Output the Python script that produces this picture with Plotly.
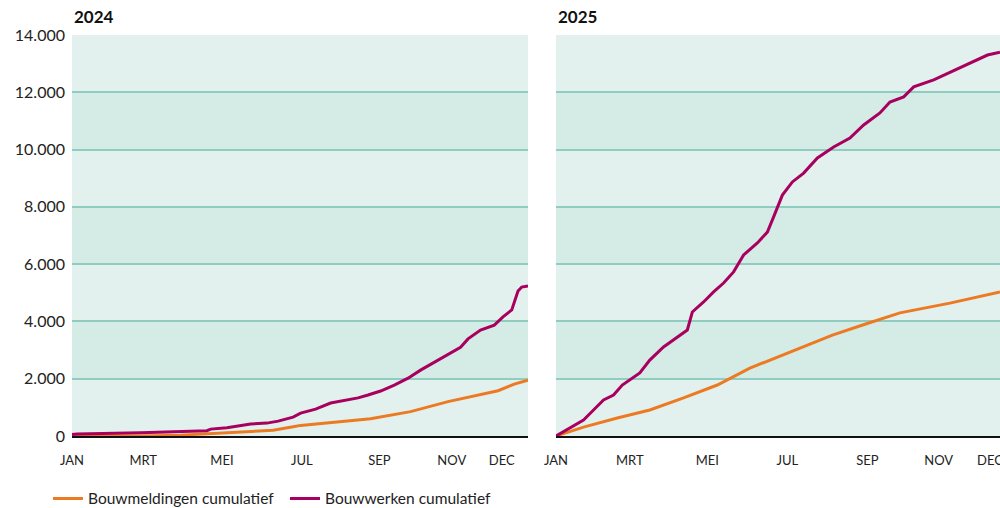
import plotly.graph_objects as go
from plotly.subplots import make_subplots

# 2024
dates_bw_2024 = ["2024-01-01", "2024-01-05", "2024-02-25", "2024-03-28", "2024-04-18", "2024-04-21",
                 "2024-05-04", "2024-05-23", "2024-06-05", "2024-06-14", "2024-06-26", "2024-07-02",
                 "2024-07-14", "2024-07-26", "2024-08-06", "2024-08-17", "2024-08-25", "2024-09-04",
                 "2024-09-15", "2024-09-26", "2024-10-06", "2024-10-20", "2024-10-28", "2024-11-07",
                 "2024-11-13", "2024-11-23", "2024-12-04", "2024-12-11", "2024-12-18", "2024-12-23",
                 "2024-12-26", "2024-12-31"]
bouwwerken_2024 = [50, 70, 115, 150, 185, 240, 290, 420, 450, 520, 660, 800, 940, 1150, 1250, 1330,
                   1430, 1570, 1780, 2020, 2300, 2650, 2830, 3100, 3390, 3700, 3870, 4160, 4400, 5060,
                   5200, 5240]

dates_bm_2024 = ["2024-01-01", "2024-02-25", "2024-03-28", "2024-04-26", "2024-05-23", "2024-06-10",
                 "2024-06-26", "2024-07-02", "2024-08-27", "2024-09-28", "2024-10-28", "2024-12-07",
                 "2024-12-20", "2024-12-31"]
bouwmeldingen_2024 = [0, 0, 30, 100, 170, 200, 320, 370, 600, 850, 1200, 1580, 1810, 1950]

# 2025
dates_bw_2025 = ["2025-01-01", "2025-01-12", "2025-01-23", "2025-01-31", "2025-02-08", "2025-02-16",
                 "2025-02-23", "2025-03-09", "2025-03-17", "2025-03-28", "2025-04-08", "2025-04-16",
                 "2025-04-20", "2025-04-29", "2025-05-07", "2025-05-15", "2025-05-23", "2025-05-31",
                 "2025-06-11", "2025-06-19", "2025-06-24", "2025-07-01", "2025-07-09", "2025-07-18",
                 "2025-07-29", "2025-08-11", "2025-08-24", "2025-09-04", "2025-09-17", "2025-09-25",
                 "2025-10-06", "2025-10-14", "2025-10-30", "2025-11-15", "2025-11-26", "2025-12-12",
                 "2025-12-22"]
bouwwerken_2025 = [0, 280, 560, 910, 1260, 1430, 1780, 2200, 2650, 3110, 3460, 3700, 4330, 4680,
                   5030, 5340, 5730, 6320, 6740, 7120, 7650, 8410, 8870, 9180, 9710, 10090, 10400,
                   10860, 11280, 11660, 11840, 12190, 12430, 12750, 12990, 13300, 13400]

dates_bm_2025 = ["2025-01-01", "2025-01-23", "2025-02-19", "2025-03-17", "2025-04-13", "2025-05-10",
                 "2025-06-05", "2025-07-02", "2025-07-15", "2025-08-10", "2025-09-05", "2025-10-03",
                 "2025-11-12", "2025-12-22"]
bouwmeldingen_2025 = [0, 310, 630, 910, 1330, 1780, 2370, 2830, 3070, 3520, 3900, 4300, 4640, 5030]

month_labels = ["JAN", "MRT", "MEI", "JUL", "SEP", "NOV", "DEC"]
ticks_2024 = ["2024-01-01", "2024-02-27", "2024-04-30", "2024-07-03", "2024-09-03", "2024-10-31", "2024-12-10"]
ticks_2025 = ["2025-01-01", "2025-03-01", "2025-05-02", "2025-07-05", "2025-09-07", "2025-11-03", "2025-12-14"]
y_ticks = [0, 2000, 4000, 6000, 8000, 10000, 12000, 14000]

ORANGE = "#ec7a22"
PURPLE = "#a8005f"
LIGHT = "#e2f1ed"
DARK = "#d5ebe6"
GRID = "#8fcdc0"
FONT = "Lato"

fig = make_subplots(rows=1, cols=2)

panels = [
    (1, dates_bm_2024, bouwmeldingen_2024, dates_bw_2024, bouwwerken_2024),
    (2, dates_bm_2025, bouwmeldingen_2025, dates_bw_2025, bouwwerken_2025),
]
for col, d_bm, v_bm, d_bw, v_bw in panels:
    fig.add_trace(go.Scatter(x=d_bm, y=v_bm, mode="lines", name="Bouwmeldingen cumulatief",
                             line=dict(color=ORANGE, width=3), showlegend=(col == 1),
                             legendgroup="bm"), row=1, col=col)
    fig.add_trace(go.Scatter(x=d_bw, y=v_bw, mode="lines", name="Bouwwerken cumulatief",
                             line=dict(color=PURPLE, width=3), showlegend=(col == 1),
                             legendgroup="bw"), row=1, col=col)

# alternating background bands
for xref, yref in [("x domain", "y"), ("x2 domain", "y2")]:
    for i in range(1, len(y_ticks) - 1, 2):
        fig.add_shape(type="rect", xref=xref, yref=yref, x0=0, x1=1,
                      y0=y_ticks[i], y1=y_ticks[i + 1], fillcolor=DARK,
                      line_width=0, layer="below")

xaxis_common = dict(
    tickmode="array", ticktext=month_labels, ticks="", showgrid=False,
    showline=True, linecolor="#111111", linewidth=1.5, automargin=False,
    tickfont=dict(family=FONT, size=13, color="#222222"),
    ticklabelstandoff=12, ticklabeloverflow="allow",
)
fig.update_xaxes(domain=[0.072, 0.528], range=["2024-01-01", "2024-12-31"],
                 tickvals=ticks_2024, **xaxis_common, row=1, col=1)
fig.update_xaxes(domain=[0.556, 1.0], range=["2025-01-01", "2025-12-22"],
                 tickvals=ticks_2025, **xaxis_common, row=1, col=2)

fig.update_yaxes(range=[0, 14000], tickvals=y_ticks, tickformat=",.0f", automargin=False,
                 showgrid=True, gridcolor=GRID, gridwidth=2, zeroline=False, ticks="",
                 tickfont=dict(family=FONT, size=16, color="#222222"))
fig.update_yaxes(showticklabels=True, ticklabelstandoff=6, row=1, col=1)
fig.update_yaxes(showticklabels=False, row=1, col=2)

fig.add_annotation(text="<b>2024</b>", xref="paper", yref="paper", x=0.072, y=1.0,
                   xanchor="left", yanchor="bottom", yshift=6, showarrow=False,
                   font=dict(family=FONT, size=17, color="#111111"))
fig.add_annotation(text="<b>2025</b>", xref="paper", yref="paper", x=0.556, y=1.0,
                   xanchor="left", yanchor="bottom", yshift=6, showarrow=False,
                   font=dict(family=FONT, size=17, color="#111111"))

fig.update_layout(
    width=1000, height=508,
    margin=dict(l=0, r=0, t=35, b=72),
    plot_bgcolor=LIGHT, paper_bgcolor="white",
    separators=",.",
    legend=dict(orientation="h", x=0.048, xref="container", y=0.018, yref="container",
                xanchor="left", yanchor="middle",
                font=dict(family=FONT, size=15.5, color="#222222"),
                entrywidth=192, entrywidthmode="pixels", bgcolor="rgba(0,0,0,0)"),
)

# let the figure fill the window from the top-left corner
fig.write_html("out.html", config={"displayModeBar": False},
               post_script="document.body.style.margin='0';")
